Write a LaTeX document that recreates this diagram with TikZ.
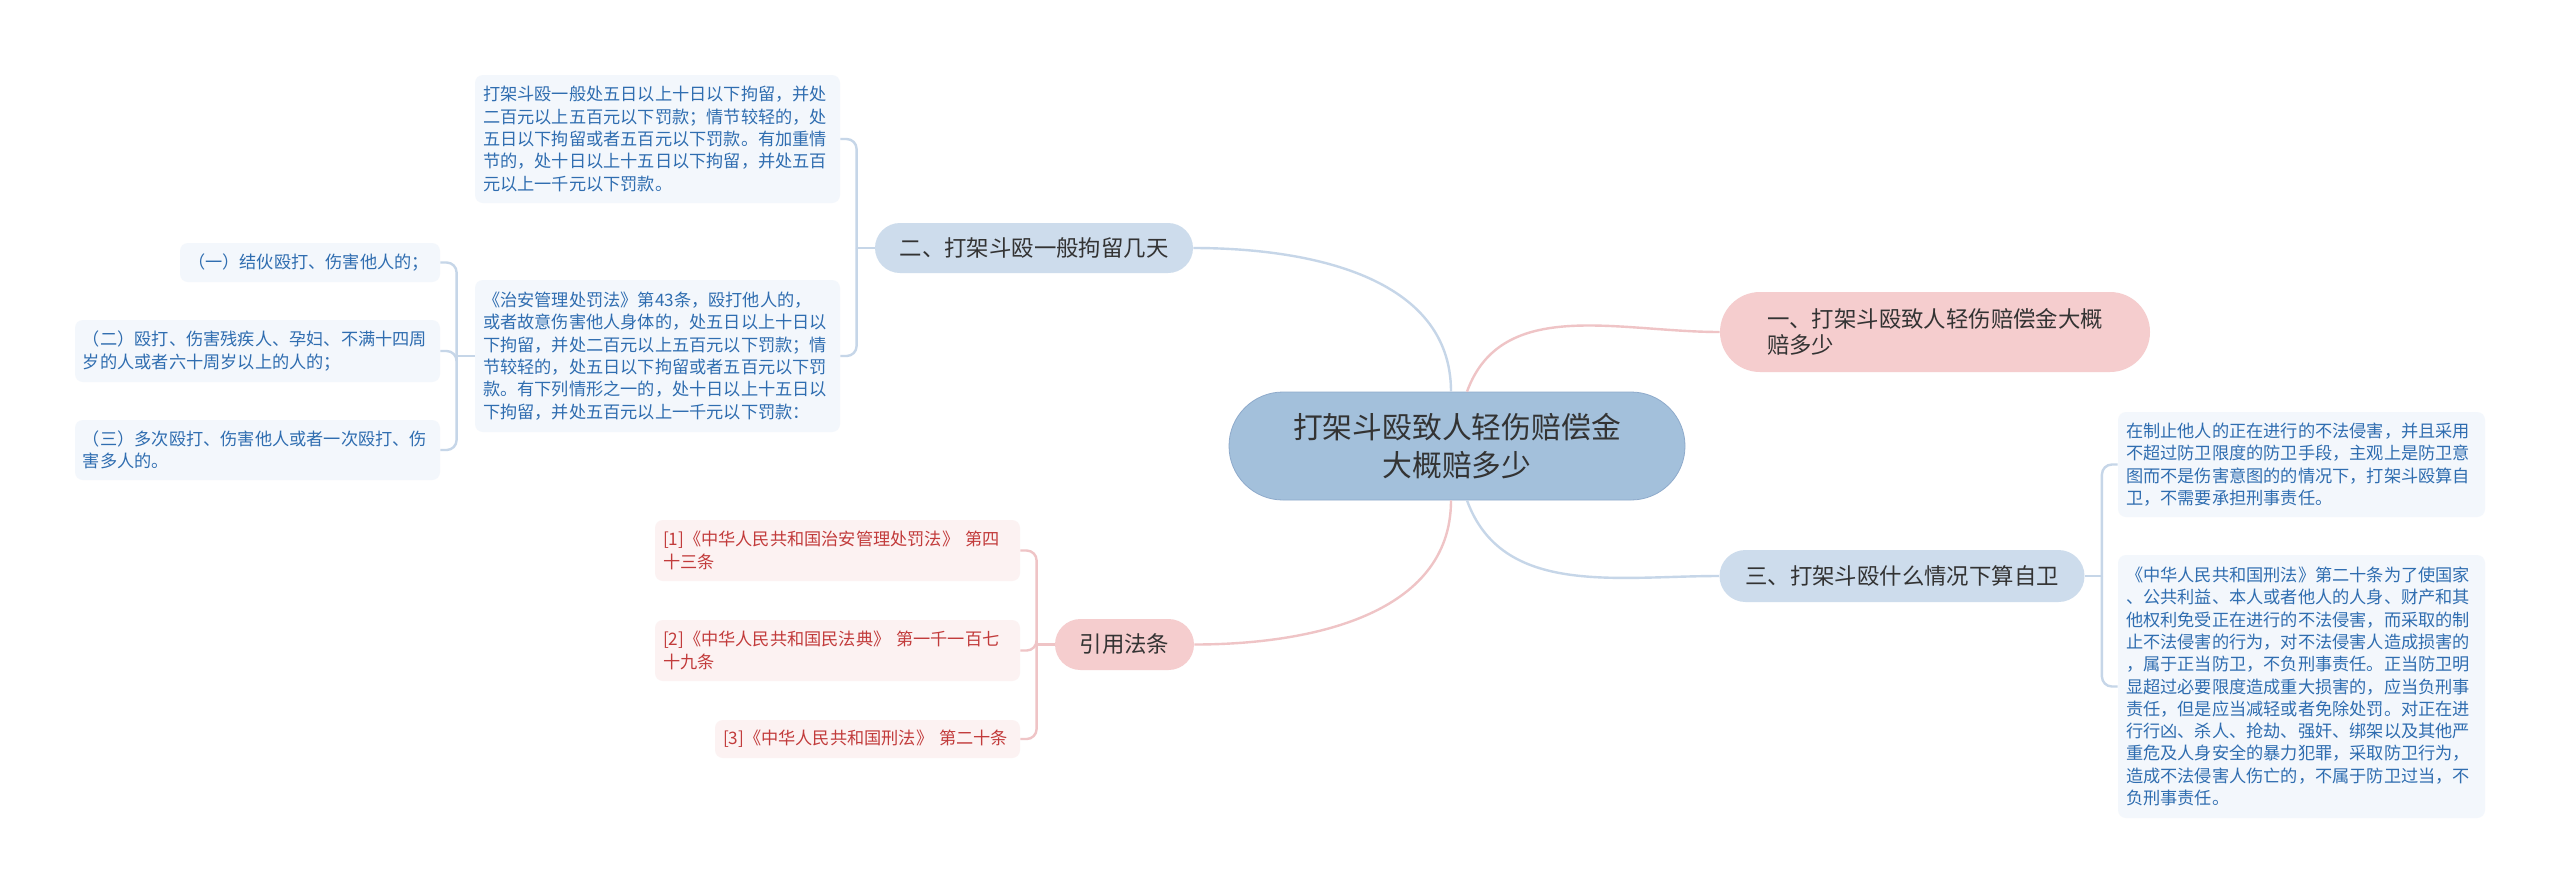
\documentclass[tikz,border=0pt]{standalone}
\usepackage{fontspec}
\newfontfamily\cjk{Noto Sans CJK SC}
\usepackage{tikz}

\definecolor{rootfill}{HTML}{A3C0DB}
\definecolor{rootdraw}{HTML}{8EAACB}
\definecolor{bluefill}{HTML}{CDDCEC}
\definecolor{pinkfill}{HTML}{F5CDCE}
\definecolor{leafblue}{HTML}{F3F7FC}
\definecolor{leafpink}{HTML}{FCF2F2}
\definecolor{textblue}{HTML}{2F6DB0}
\definecolor{textred}{HTML}{C23B3B}
\definecolor{textdark}{HTML}{333333}
\definecolor{linkblue}{HTML}{C6D6E8}
\definecolor{linkpink}{HTML}{EFC4C6}

\tikzset{
  root/.style={fill=rootfill, draw=rootdraw, line width=0.4pt, text=textdark,
    font=\cjk\fontsize{14.9}{19}\selectfont, align=center,
    minimum width=228pt, minimum height=54pt, rounded corners=27pt},
  branch/.style={text=textdark, font=\cjk\fontsize{11.2}{13.4}\selectfont,
    align=left, inner sep=0pt},
  bluebranch/.style={branch, fill=bluefill},
  pinkbranch/.style={branch, fill=pinkfill},
  leaf/.style={font=\cjk\fontsize{8.6}{11.15}\selectfont, align=left,
    rounded corners=4pt, inner xsep=4pt, inner ysep=0pt},
  blueleaf/.style={leaf, fill=leafblue, text=textblue},
  pinkleaf/.style={leaf, fill=leafpink, text=textred},
  bluelink/.style={draw=linkblue, line width=1.2pt},
  pinklink/.style={draw=linkpink, line width=1.2pt},
}

\begin{document}
\begin{tikzpicture}[x=0.5pt, y=-0.5pt]

\useasboundingbox (0,0) rectangle (2560,895);
\fill[white] (0,0) rectangle (2560,895);

%% ─── Central topic ──────────────────────────────────────────────────────────
\node[root] (root) at (1457,446) {打架斗殴致人轻伤赔偿金\\大概赔多少};

%% ─── Main branches ──────────────────────────────────────────────────────────
\node[pinkbranch, minimum width=215pt, minimum height=40pt, rounded corners=20pt]
  (yi) at (1935,332) {一、打架斗殴致人轻伤赔偿金大概\\赔多少};
\node[bluebranch, minimum width=159pt, minimum height=25pt, rounded corners=12.5pt]
  (er) at (1034,248) {二、打架斗殴一般拘留几天};
\node[bluebranch, minimum width=182.5pt, minimum height=26pt, rounded corners=13pt]
  (san) at (1902,576) {三、打架斗殴什么情况下算自卫};
\node[pinkbranch, minimum width=69.5pt, minimum height=25.5pt, rounded corners=12.75pt]
  (yin) at (1124.5,644.5) {引用法条};

%% ─── Leaves of 二 ───────────────────────────────────────────────────────────
\node[blueleaf, text width=174.5pt, minimum height=64pt] (l1) at (657.5,139)
  {打架斗殴一般处五日以上十日以下拘留，并处\\二百元以上五百元以下罚款；情节较轻的，处\\五日以下拘留或者五百元以下罚款。有加重情\\节的，处十日以上十五日以下拘留，并处五百\\元以上一千元以下罚款。};
\node[blueleaf, text width=174.5pt, minimum height=76pt] (l2) at (657.5,356)
  {《治安管理处罚法》第43条，殴打他人的，\\或者故意伤害他人身体的，处五日以上十日以\\下拘留，并处二百元以上五百元以下罚款；情\\节较轻的，处五日以下拘留或者五百元以下罚\\款。有下列情形之一的，处十日以上十五日以\\下拘留，并处五百元以上一千元以下罚款：};

\node[blueleaf, text width=122pt, minimum height=19.5pt] (s1) at (310,262.5)
  {（一）结伙殴打、伤害他人的；};
\node[blueleaf, text width=174.5pt, minimum height=31pt] (s2) at (257.5,351)
  {（二）殴打、伤害残疾人、孕妇、不满十四周\\岁的人或者六十周岁以上的人的；};
\node[blueleaf, text width=174.5pt, minimum height=30pt] (s3) at (257.5,450)
  {（三）多次殴打、伤害他人或者一次殴打、伤\\害多人的。};

%% ─── Leaves of 引用法条 ─────────────────────────────────────────────────────
\node[pinkleaf, text width=174.5pt, minimum height=30.5pt] (r1) at (837.5,550.5)
  {[1]《中华人民共和国治安管理处罚法》 第四\\十三条};
\node[pinkleaf, text width=174.5pt, minimum height=30.5pt] (r2) at (837.5,650.5)
  {[2]《中华人民共和国民法典》 第一千一百七\\十九条};
\node[pinkleaf, text width=144.5pt, minimum height=19pt] (r3) at (867.5,739)
  {[3]《中华人民共和国刑法》 第二十条};

%% ─── Leaves of 三 ───────────────────────────────────────────────────────────
\node[blueleaf, text width=175.5pt, minimum height=52.5pt] (t1) at (2301.5,464.5)
  {在制止他人的正在进行的不法侵害，并且采用\\不超过防卫限度的防卫手段，主观上是防卫意\\图而不是伤害意图的的情况下，打架斗殴算自\\卫，不需要承担刑事责任。};
\node[blueleaf, text width=175.5pt, minimum height=131.5pt] (t2) at (2301.5,686.5)
  {《中华人民共和国刑法》第二十条为了使国家\\、公共利益、本人或者他人的人身、财产和其\\他权利免受正在进行的不法侵害，而采取的制\\止不法侵害的行为，对不法侵害人造成损害的\\，属于正当防卫，不负刑事责任。正当防卫明\\显超过必要限度造成重大损害的，应当负刑事\\责任，但是应当减轻或者免除处罚。对正在进\\行行凶、杀人、抢劫、强奸、绑架以及其他严\\重危及人身安全的暴力犯罪，采取防卫行为，\\造成不法侵害人伤亡的，不属于防卫过当，不\\负刑事责任。};

%% ─── Root to branches ───────────────────────────────────────────────────────
\draw[bluelink] ([xshift=-3pt]root.north) to[out=90, in=0] (er.east);
\draw[pinklink] ([xshift=5pt]root.north) to[out=70, in=180] (yi.west);
\draw[pinklink] ([xshift=-3pt]root.south) to[out=-90, in=0] (yin.east);
\draw[bluelink] ([xshift=5pt]root.south) to[out=-70, in=180] (san.west);

%% ─── Branch brackets ────────────────────────────────────────────────────────
\path (er.west) ++(-18,0) coordinate (erj);
\path (l2.west) ++(-18,0) coordinate (l2j);
\path (yin.west) ++(-18,0) coordinate (yinj);
\path (san.east) ++(17,0) coordinate (sanj);

\draw[bluelink] (er.west) -- (erj);
\foreach \t in {l1, l2}
  \draw[bluelink, rounded corners=5pt] (erj) |- (\t.east);

\draw[bluelink] (l2.west) -- (l2j);
\foreach \t in {s1, s2, s3}
  \draw[bluelink, rounded corners=5pt] (l2j) |- (\t.east);

\draw[pinklink] (yin.west) -- (yinj);
\foreach \t in {r1, r2, r3}
  \draw[pinklink, rounded corners=5pt] (yinj) |- (\t.east);

\draw[bluelink] (san.east) -- (sanj);
\foreach \t in {t1, t2}
  \draw[bluelink, rounded corners=5pt] (sanj) |- (\t.west);

\end{tikzpicture}
\end{document}
